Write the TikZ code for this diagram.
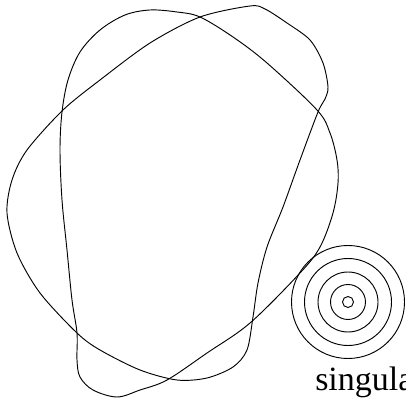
\documentclass[tikz,border=0pt]{standalone}
\usepackage{fontspec}
\setmainfont{Liberation Serif}
\usepackage{tikz}

\begin{document}
\begin{tikzpicture}[
  x=0.75pt, y=-0.75pt,
  curve/.style={line width=0.7pt, smooth cycle, tension=0.55},
  ring/.style={line width=0.7pt},
  lbl/.style={anchor=base west, font=\fontsize{25.5}{30}\selectfont, inner sep=0pt},
]
\useasboundingbox (0,0) rectangle (406,398);
\clip (0,0) rectangle (406,398);

%------------------- tall loop -------------------
\draw[curve] plot coordinates {
  (62,112) (68,80) (80,52) (100,30) (125,15) (150,10) (177,12) (200,17)
  (233,37) (267,63) (317,110) (330,133) (337,160) (338,183)
  (333,213) (320,247) (300,273) (250,323) (207,353) (167,380)
  (140,390) (117,397) (93,390) (80,377) (77,360) (77,333)
  (72,300) (67,250) (62,200) (60,150)
};

%------------------- wide loop -------------------
\draw[curve, tension=0.5] plot coordinates {
  (7,213) (12,180) (27,150) (63,110) (100,80) (150,43) (200,17)
  (250,6) (265,9) (287,23) (310,40) (323,63) (328,87) (325,99)
  (318,112) (300,160) (283,207) (267,247) (258,283) (253,317)
  (247,350) (233,367) (207,378) (177,380) (140,370) (100,350)
  (77,333) (40,293) (17,253)
};

%------------------- singularity rings -------------------
\coordinate (sing) at (348,302);
\foreach \r in {5.5,17.5,30,43.5,56.5}
  \draw[ring] (sing) circle[radius=\r*0.75pt];

\node (singlbl) [lbl] at (315,390) {singularity};

\end{tikzpicture}
\end{document}
